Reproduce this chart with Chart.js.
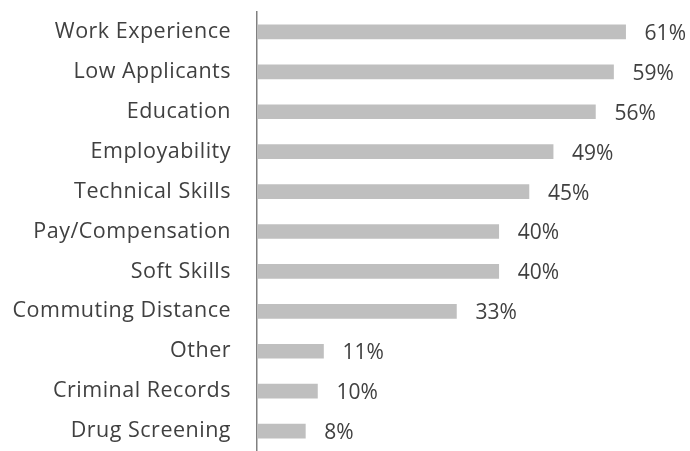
<!DOCTYPE html>
<html>
<head>
<meta charset="utf-8">
<script src="https://cdn.jsdelivr.net/npm/chart.js@4.4.1/dist/chart.umd.min.js"></script>
<style>
  html, body { margin: 0; padding: 0; background: #fff; overflow: hidden; }
  canvas { display: block; }
</style>
</head>
<body>
<canvas id="barChart" width="690" height="451"></canvas>
<script>
const categories = ['Work Experience', 'Low Applicants', 'Education', 'Employability', 'Technical Skills',
    'Pay/Compensation', 'Soft Skills', 'Commuting Distance', 'Other', 'Criminal Records', 'Drug Screening'];
const percentages = [61, 59, 56, 49, 45, 40, 40, 33, 11, 10, 8];

const textColor = '#404040';
const fontFamily = "'Open Sans', 'Noto Sans', sans-serif";

// slightly wider category labels, closer to the original font
const labelSpacing = {
    id: 'labelSpacing',
    beforeDraw(chart) {
        chart.ctx.letterSpacing = '0.5px';
    }
};

// draws "61%" etc to the right of each bar
const valueLabels = {
    id: 'valueLabels',
    afterDatasetsDraw(chart) {
        const ctx = chart.ctx;
        const meta = chart.getDatasetMeta(0);
        ctx.save();
        ctx.letterSpacing = '0px';
        ctx.fillStyle = textColor;
        ctx.font = '21px ' + fontFamily;
        ctx.textAlign = 'left';
        ctx.textBaseline = 'middle';
        meta.data.forEach((bar, i) => {
            ctx.fillText(percentages[i] + '%', bar.x + 19, bar.y + 2);
        });
        ctx.restore();
    }
};

new Chart(document.getElementById('barChart'), {
    type: 'bar',
    data: {
        labels: categories,
        datasets: [{
            data: percentages,
            backgroundColor: '#bfbfbf',
            barThickness: 14
        }]
    },
    options: {
        indexAxis: 'y',
        responsive: false,
        animation: false,
        layout: { padding: { top: 12, right: 10, bottom: 0, left: 0 } },
        plugins: {
            legend: { display: false },
            tooltip: { enabled: false }
        },
        scales: {
            x: {
                display: false,
                min: 0,
                max: 70
            },
            y: {
                grid: { display: false, drawTicks: false },
                border: { display: true, color: '#808080', width: 1.5 },
                ticks: {
                    color: textColor,
                    padding: 26,
                    font: { family: fontFamily, size: 21.5 }
                },
                afterFit(scale) {
                    scale.width = 257;
                    // tick padding would otherwise push the plot down
                    scale.paddingTop = 0;
                    scale.paddingBottom = 0;
                }
            }
        }
    },
    plugins: [labelSpacing, valueLabels]
});
</script>
</body>
</html>
